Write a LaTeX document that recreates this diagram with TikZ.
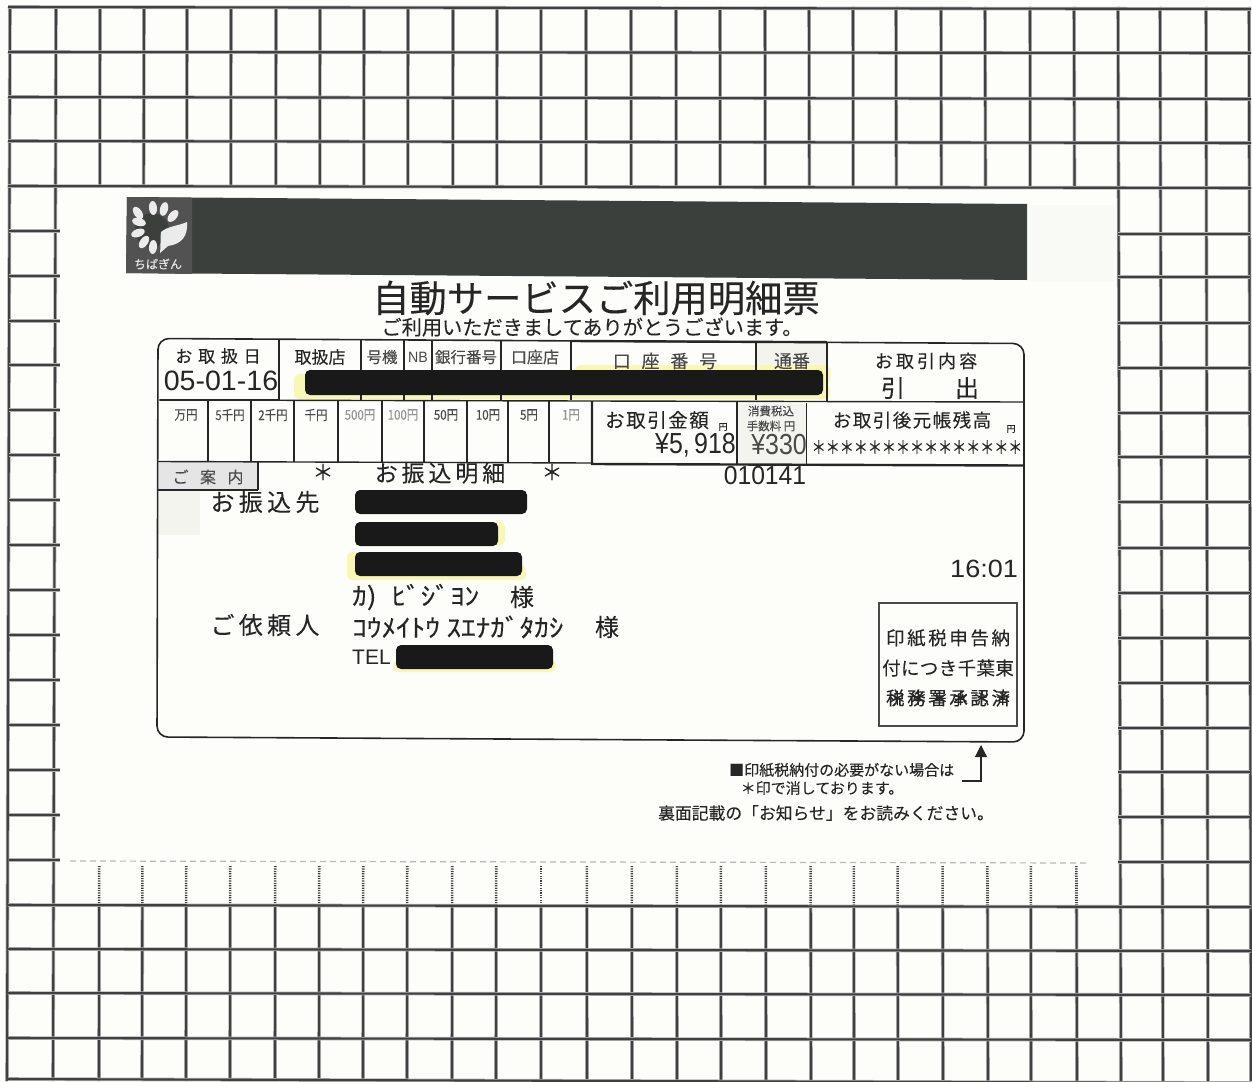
\documentclass[tikz,border=0pt]{standalone}
\usepackage{fontspec}
\usetikzlibrary{arrows.meta}
\newfontfamily\cjk[FakeBold=0.12]{Noto Sans CJK JP}
\newfontfamily\lat{Liberation Sans}
\definecolor{paper}{HTML}{FDFDFA}
\definecolor{ink}{HTML}{262626}
\definecolor{midink}{HTML}{4A4A4A}
\definecolor{paleink}{HTML}{959595}
\definecolor{gridc}{HTML}{404040}
\definecolor{halo}{HTML}{B0B0B0}
\definecolor{band}{HTML}{3B403C}
\definecolor{marker}{HTML}{F8F7B4}
\definecolor{smudge}{HTML}{F4F4EF}
\definecolor{smudgeb}{HTML}{F9F9F5}
\newcommand\J[3]{{\fontsize{#1}{#1}\cjk\addfontfeatures{LetterSpace=#2}#3}}
\newcommand\Ls[3]{\scalebox{#2}[1]{\fontsize{#1}{#1}\lat #3}}
\newcommand\Hw[3]{\scalebox{#2}[1]{\fontsize{#1}{#1}\cjk #3}}
\newcommand\gl[1]{\draw[gridhalo] #1; \draw[gridcore] #1;}
\tikzset{
 gridhalo/.style={line width=3.6pt,halo},
 gridcore/.style={line width=2.1pt,gridc},
 txt/.style={inner sep=0pt,text=ink},
 thin rule/.style={line width=1.4pt,draw=ink},
 thick rule/.style={line width=2.4pt,draw=ink},
 blob/.style={fill=black!90,rounded corners=5pt},
 glow/.style={fill=marker,rounded corners=5pt},
 petal/.style={fill=white!92!black,draw=none},
}
\begin{document}
\begin{tikzpicture}[x=1pt,y=-1pt]
\useasboundingbox (0,0) rectangle (1252,1081);
\fill[paper] (0,0) rectangle (1252,1081);
% ---- faint smudges
\fill[smudge] (157,490) rectangle (200,535);
\fill[smudgeb] (1030,205) rectangle (1115,282);
% ---- graph paper: vertical rules
\foreach \a/\b in {10/7,56/53,1118/1121,1160/1163,1206/1208,1249/1251}{\gl{(\a,7)--(\b,1081)}}
\foreach \a/\b in {100/99,144/142,187/186,231/230,276/275,320/319,364/363,408/407,453/452,497/496,541/541,586/587,631/632,676/677,720/721,765/766,809/811,853/854,896/898,941/943,985/988,1030/1031,1074/1077}{
  \pgfmathsetmacro\xm{\a+(\b-\a)*0.172}
  \pgfmathsetmacro\xn{\a+(\b-\a)*0.837}
  \pgfmathsetmacro\xs{\a+(\b-\a)*0.80}
  \gl{(\a,7)--(\xm,187)}
  \gl{(\xn,905)--(\b,1081)}
  \draw[line width=2.6pt,gridc,dash pattern=on 1.2pt off 1.2pt] (\xs,866)--(\xn,905);
}
% ---- graph paper: full horizontals
\foreach \l/\r in {7/9,52/53,97/99,141/143,186/188,905/907,949/951,993/995,1038/1040,1079/1083}{\gl{(8,\l)--(1251,\r)}}
% ---- graph paper: side rules
\foreach \l/\r in {231/234,276/277,321/323,365/368,410/413,455/457,500/502,545/548,590/593,635/638,680/683,725/728,770/772,815/817,860/862}{
  \gl{(9,\l)--(60,\l)}
  \gl{(1118,\r)--(1250,\r)}
}
% ---- tear line
\draw[line width=1.2pt,black!28,dash pattern=on 6pt off 4pt] (70,861)--(1090,863);
% ---- header band + logo
\fill[band] (127,197)--(1027,204)--(1027,280)--(126,273)--cycle;
\fill[black!68] (127,197)--(192,198)--(192,274)--(126,273)--cycle;
\fill[band] (152,230) circle (17);
\foreach \x/\y/\r in {153/208/95,164/209/75,173/216/50,138/213/125,139/222/165,138/233/200,144/242/235,153/247/265}{
  \fill[petal,rotate around={\r:(\x,\y)}] (\x,\y) ellipse (7 and 4);
}
\fill[petal] (161,232) .. controls (168,226) and (178,226) .. (187,222) .. controls (188,236) and (182,244) .. (168,246) .. controls (165,248) and (163,251) .. (160,253) .. controls (161,246) and (160,240) .. (161,232) -- cycle;
\node[txt,text=white!90!black] (logotext) at (158,264) {\J{12}{0}{ちばぎん}};
% ---- title
\node[txt] (title) at (596,298) {\J{37.3}{0}{自動サービスご利用明細票}};
\node[txt] (subtitle) at (592,327) {\J{20.2}{0}{ご利用いただきましてありがとうございます。}};
% ---- marker highlights (under the table rules)
\fill[glow] (294,374) rectangle (400,399);
\fill[glow] (300,385) rectangle (830,399);
\fill[glow] (575,365) rectangle (830,385);
\fill[glow] (480,522) rectangle (505,545);
\fill[glow] (347,552) rectangle (365,580);
\fill[glow] (352,565) rectangle (526,580);
\fill[glow] (393,660) rectangle (556,672);
% ---- cell fills
\fill[black!10] (158,462) rectangle (258,490);
\fill[smudge] (737,404) rectangle (806,463);
\fill[smudge] (757,343) rectangle (826,365);
% ---- form frame
\draw[thin rule,line width=1.6pt,rounded corners=11pt] (158,338.5)--(1024,343.5)--(1024,742)--(157,737)--cycle;
\draw[thin rule] (159,400)--(1024,402);
\draw[thin rule] (158,461.5)--(592,463);
\draw[thin rule] (158,490)--(258,490);
\foreach \x/\t in {361/339.6,404/339.9,432/340,501/340.4,571/340.8,756/341.8}{\draw[thin rule] (\x,\t)--(\x,400);}
\foreach \x in {208,251,294,338,382,424,467,508,549}{\draw[thin rule] (\x,401)--(\x,462);}
\draw[thin rule] (258,462)--(258,490);
\draw[thin rule,line width=.9pt] (806,403)--(806,464);
\draw[thick rule] (279,339)--(279,400);
\draw[thick rule] (827,342.2)--(827,401);
\draw[thick rule] (160,400)--(279,400);
\draw[thick rule] (571,341)--(827,342.2);
\draw[thick rule] (592,401)--(592,464)--(1024,465.5);
\draw[thick rule] (737,402)--(737,464);
% ---- redaction
\fill[blob] (305,370) rectangle (823,395);
\fill[blob] (355,490) rectangle (527,514);
\fill[blob] (355,522) rectangle (498,546);
\fill[blob] (355,552) rectangle (522,576);
\fill[blob] (396,645) rectangle (553,669);
% ---- table text, row 1
\node[txt] (dateh) at (218,356) {\J{17}{34}{お取扱日}};
\node[txt] (date) at (221,381) {\Ls{28}{1.02}{05-01-16}};
\node[txt] (shop) at (320,357) {\J{17}{0}{取扱店}};
\node[txt,text=midink] (machine) at (382,357) {\J{15.5}{0}{号機}};
\node[txt,text=midink] (nb) at (418,357) {\Ls{15}{.95}{NB}};
\node[txt,text=midink] (bankno) at (466,357) {\J{15.5}{0}{銀行番号}};
\node[txt,text=midink] (acshop) at (535,357) {\J{16}{0}{口座店}};
\node[txt,text=midink] (acno) at (665,361) {\J{18}{60}{口座番号}};
\node[txt,text=midink] (book) at (792,361) {\J{18}{0}{通番}};
\node[txt] (kind) at (926,361) {\J{18}{17}{お取引内容}};
\node[txt] (kinda) at (893,388) {\J{24}{0}{引}};
\node[txt] (kindb) at (967,388) {\J{24}{0}{出}};
% ---- denominations
\foreach \n/\x/\t/\c in {a/186/万円/midink,b/230/5千円/midink,c/273/2千円/midink,d/316/千円/midink,e/360/500円/paleink,f/403/100円/paleink,g/446/50円/midink,h/488/10円/midink,i/529/5円/midink,j/571/1円/paleink}{
  \node[txt,text=\c] (den\n) at (\x,415) {\scalebox{.85}[1]{\J{13.5}{0}{\t}}};
}
% ---- amounts
\node[txt] (amtlabel) at (657,420) {\J{19.5}{8}{お取引金額}};
\node[txt] (amtyen) at (723,427) {\J{9}{0}{円}};
\node[txt,anchor=east] (amount) at (736,445) {\Ls{29}{.86}{¥5,\hspace{5pt}918}};
\node[txt,text=midink] (feea) at (771,411) {\J{11.5}{0}{消費税込}};
\node[txt,text=midink] (feeb) at (771,426) {\J{11.5}{0}{手数料 円}};
\node[txt,anchor=east,text=midink] (fee) at (807,445) {\Ls{29}{.86}{¥330}};
\node[txt] (ballabel) at (912,420) {\J{18.5}{8}{お取引後元帳残高}};
\node[txt] (balyen) at (1011,429) {\J{9}{0}{円}};
\node[txt] (stars) at (917,447) {\scalebox{.78}[1]{\J{18}{0}{＊＊＊＊＊＊＊＊＊＊＊＊＊＊＊}}};
% ---- guide
\node[txt,text=midink] (guide) at (208,477) {\J{16}{72}{ご案内}};
\node[txt] (stara) at (323,472) {\J{21}{0}{＊}};
\node[txt] (detail) at (440,473) {\J{23}{17}{お振込明細}};
\node[txt] (starb) at (552,472) {\J{21}{0}{＊}};
\node[txt] (serial) at (765,476) {\Ls{26}{.95}{010141}};
\node[txt] (payee) at (265,502) {\J{24}{18}{お振込先}};
\node[txt] (client) at (265,625) {\J{24}{18}{ご依頼人}};
\node[txt,anchor=west] (kana1) at (352,597) {\Hw{25}{1.17}{ｶ)\hspace{7pt} ﾋﾞｼﾞﾖﾝ}};
\node[txt] (sama1) at (522,597) {\J{24}{0}{様}};
\node[txt,anchor=west] (kana2) at (352,627) {\Hw{25}{1.17}{ｺｳﾒｲﾄｳ ｽｴﾅｶﾞﾀｶｼ}};
\node[txt] (sama2) at (607,627) {\J{24}{0}{様}};
\node[txt,anchor=west] (tel) at (352,657) {\Ls{21}{1}{TEL}};
\node[txt,anchor=east] (time) at (1018,569) {\Ls{25}{1.08}{16:01}};
% ---- stamp box
\node[draw=midink,line width=1.3pt,minimum width=138pt,minimum height=123pt,inner sep=0pt] (stamp) at (948,664.5) {};
\node[txt] (st1) at (948,638) {\J{18.5}{14}{印紙税申告納}};
\node[txt] (st2) at (948,668) {\J{18.5}{2}{付につき千葉東}};
\node[txt] (st3) at (948,698) {\J{18.5}{14}{税務署承認済}};
\node[txt] (st4) at (950,698) {\J{18.5}{14}{＊＊＊＊＊＊}};
% ---- footnotes
\node[txt,anchor=west] (noteone) at (729,770) {\J{15}{0}{■印紙税納付の必要がない場合は}};
\node[txt] (notetwo) at (822,788) {\J{15}{0}{＊印で消しております。}};
\node[txt] (notethree) at (826,813) {\J{16.8}{0}{裏面記載の「お知らせ」をお読みください。}};
\coordinate (arrowstart) at (962,781);
\coordinate (arrowend) at (981,745);
\draw[line width=1.2pt,ink,-{Triangle[length=12pt,width=12pt]}] (arrowstart)-|(arrowend);
\end{tikzpicture}
\end{document}
